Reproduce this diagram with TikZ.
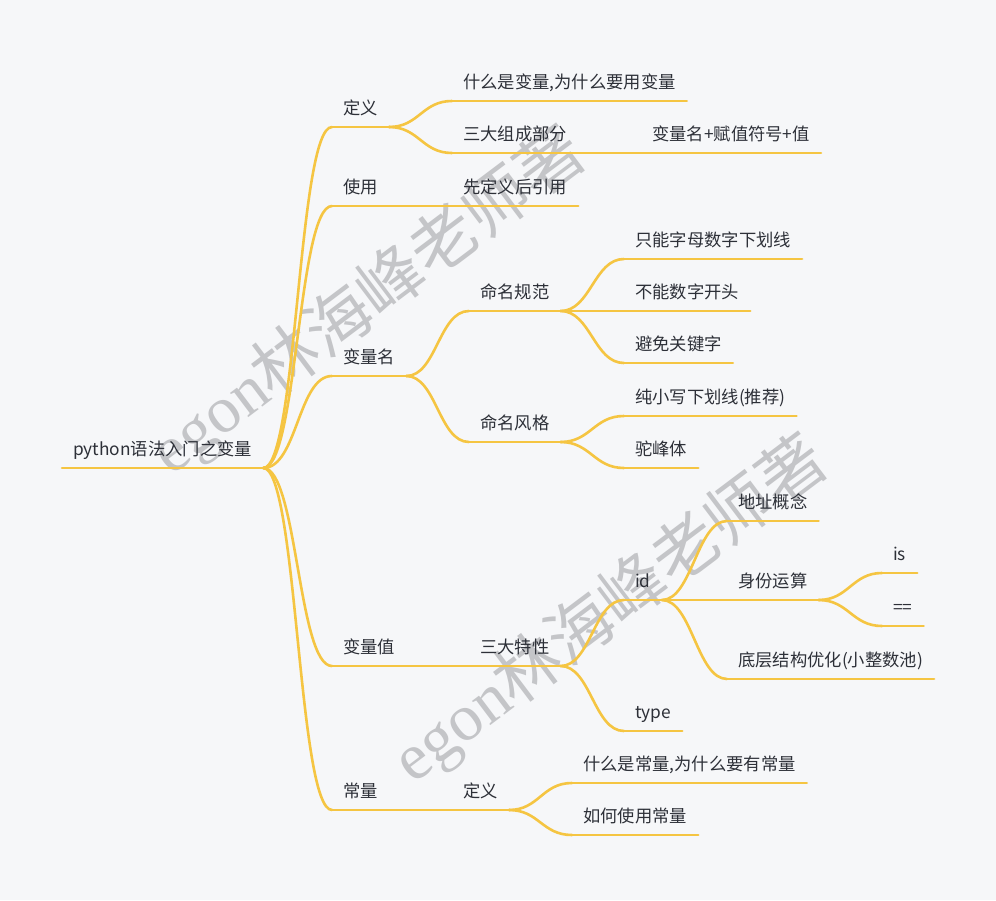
\documentclass[tikz,border=0pt]{standalone}
\usepackage{fontspec}
\setmainfont{Noto Sans CJK SC}
\newfontfamily\wmlatin{Liberation Serif}
\usepackage{tikz}
\usetikzlibrary{calc,positioning}
\definecolor{paper}{RGB}{246,247,249}
\definecolor{ink}{RGB}{45,48,56}
\definecolor{branchline}{RGB}{245,197,66}
\definecolor{wmgray}{RGB}{196,197,200}
\tikzset{%
	topic/.style     = {anchor=south west, inner xsep=11pt, inner ysep=12pt, text height=13pt, text depth=0pt, text=ink, font=\fontsize{17.3}{20}\selectfont}, % text over a line
	branch/.style    = {draw=branchline, line width=2.6pt, line cap=round}, % yellow line
	link/.style      = {to path={.. controls +(#1,0) and +(-#1,0) .. (\tikztotarget)}}, % s-curve
	link/.default    = 30,
	watermark/.style = {text=wmgray, rotate=37, font=\fontsize{66}{66}\selectfont},
}
\begin{document}
\begin{tikzpicture}[x=1pt,y=-1pt]
	\useasboundingbox[fill=paper] (0,0) rectangle (996,900);
	% watermark
	\node[watermark] (wma) at (368,302) {{\wmlatin egon}林海峰老师著};
	\node[watermark] (wmb) at (610,610) {{\wmlatin egon}林海峰老师著};
	\node[topic] (root) at (62,468) {python语法入门之变量};
	% first level
	\node[topic] (def) at (332,127) {定义};
	\node[topic] (use) at (332,206) {使用};
	\node[topic] (vname) at (332,376) {变量名};
	\node[topic] (vval) at (332,666) {变量值};
	\node[topic] (const) at (332,810) {常量};
	% definition
	\node[topic] (defwhat) at (452,101) {什么是变量,为什么要用变量};
	\node[topic] (defparts) at (452,153) {三大组成部分};
	\node[topic] (partsval) at (641,153) {变量名+赋值符号+值};
	\node[topic] (userule) at (452,206) {先定义后引用};
	% names
	\node[topic] (namerule) at (469,311) {命名规范};
	\node[topic] (namestyle) at (469,442) {命名风格};
	\node[topic] (rulea) at (624,259) {只能字母数字下划线};
	\node[topic] (ruleb) at (624,311) {不能数字开头};
	\node[topic] (rulec) at (624,363) {避免关键字};
	\node[topic] (stylea) at (624,416) {纯小写下划线(推荐)};
	\node[topic] (styleb) at (624,468) {驼峰体};
	% values
	\node[topic] (traits) at (469,666) {三大特性};
	\node[topic] (idn) at (624,600) {id};
	\node[topic] (typen) at (624,731) {type};
	\node[topic] (idaddr) at (727,521) {地址概念};
	\node[topic] (idop) at (727,600) {身份运算};
	\node[topic] (idpool) at (727,679) {底层结构优化(小整数池)};
	\node[topic] (opis) at (882,573) {is};
	\node[topic] (opeq) at (882,626) {==};
	% constants
	\node[topic] (constdef) at (452,810) {定义};
	\node[topic] (constwhat) at (572,783) {什么是常量,为什么要有常量};
	\node[topic] (constuse) at (572,835) {如何使用常量};
	% underlines
	\foreach \n in {root,def,use,vname,vval,const,defwhat,defparts,partsval,userule,namerule,namestyle,rulea,ruleb,rulec,stylea,styleb,traits,idn,typen,idaddr,idop,idpool,opis,opeq,constdef,constwhat,constuse}
		\draw[branch] (\n.south west) -- (\n.south east);
	% connectors
	\foreach \n in {def,use,vname,vval,const}
		\draw[branch] (root.south east) to[link=34] (\n.south west);
	\foreach \a/\b in {def/defwhat,def/defparts,defparts/partsval,use/userule,vname/namerule,vname/namestyle,namerule/rulea,namerule/ruleb,namerule/rulec,namestyle/stylea,namestyle/styleb,vval/traits,traits/idn,traits/typen,idn/idaddr,idn/idop,idn/idpool,idop/opis,idop/opeq,const/constdef,constdef/constwhat,constdef/constuse}
		\draw[branch] (\a.south east) to[link] (\b.south west);
\end{tikzpicture}
\end{document}
